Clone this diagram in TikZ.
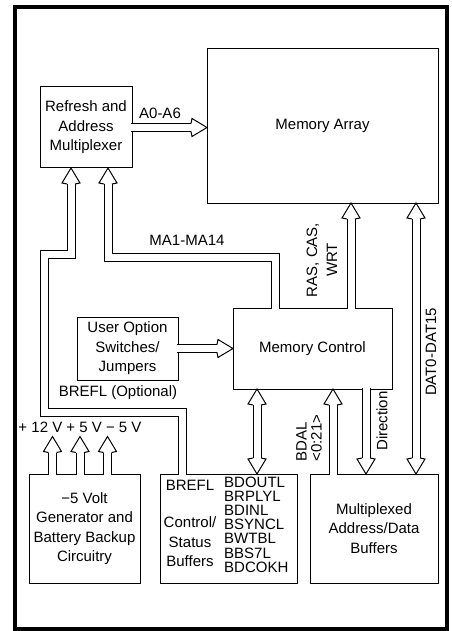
\documentclass[tikz,border=0pt]{standalone}
\usepackage{fontspec}
\setmainfont{Liberation Sans}
\usetikzlibrary{calc}
\tikzset{
  hhead/.pic={\draw[line width=1pt, line join=miter] (-16,4)--(-15,9)--(0,0)--(-15,-9)--(-16,-4);},
  box/.style={draw, line width=1pt, anchor=north west, align=center, inner sep=1pt, outer sep=0pt},
  bus/.style={double distance=7pt, line width=1pt, line join=miter, shorten <=-0.6pt},
  lab/.style={inner sep=0pt, align=center}
}
\begin{document}
\begin{tikzpicture}[x=1pt,y=-1pt,font=\fontsize{15}{19.5}\selectfont]
\useasboundingbox (0,0) rectangle (451,631);
\draw[line width=4pt] (14.5,7) rectangle (447,628.5);

% boxes
\node[box, minimum width=92pt, minimum height=81pt] (mux) at (40,87) {Refresh and\\Address\\Multiplexer};
\node[box, minimum width=231pt, minimum height=154pt] (array) at (207,49) {Memory Array};
\node[box, minimum width=159pt, minimum height=81pt] (mc) at (233,308) {Memory Control};
\node[box, minimum width=101pt, minimum height=63pt] (uo) at (77,317) {User Option\\Switches/\\Jumpers};
\node[box, minimum width=111pt, minimum height=109pt] (pw) at (29,474) {−5 Volt\\Generator and\\Battery Backup\\Circuitry};
\node[box, minimum width=137pt, minimum height=109pt] (ctrl) at (160,474) {};
\node[box, minimum width=128pt, minimum height=109pt] (mbuf) at (310,474) {Multiplexed\\Address/Data\\Buffers};

% texts inside control/status box
\node[lab] (brefl) at (190,485) {BREFL};
\node[lab] (cs) at (190,542) {Control/\\Status\\Buffers};
\node[lab, anchor=west, align=left, font=\fontsize{15}{14.2}\selectfont] (sig) at (224,524.5) {BDOUTL\\BRPLYL\\BDINL\\BSYNCL\\BWTBL\\BBS7L\\BDCOKH};

% A0-A6
\coordinate (a2) at (mux.east -| array.west);
\draw[bus, shorten >=16pt] (mux.east) -- (a2);
\pic at (a2) {hhead};

% BREFL path to multiplexer
\coordinate (b0) at ([xshift=22pt]ctrl.north west);
\coordinate (b1) at ([xshift=-15pt]mux.south);
\draw[bus, shorten >=16pt] (b0) |- (44,412.5) -- (44,254.5) -| (b1);
\pic[rotate=90] at (b1) {hhead};

% MA1-MA14 path
\coordinate (m0) at ([xshift=42pt]mc.north west);
\coordinate (m1) at ([xshift=22pt]mux.south);
\draw[bus, shorten >=16pt] (m0) |- (108,257) -- (m1);
\pic[rotate=90] at (m1) {hhead};

% user option -> memory control
\coordinate (u1) at (uo.east -| mc.west);
\draw[bus, shorten >=16pt] (uo.east) -- (u1);
\pic at (u1) {hhead};

% RAS CAS WRT
\coordinate (r0) at ([xshift=118pt]mc.north west);
\coordinate (r1) at (r0 |- array.south);
\draw[bus, shorten >=16pt] (r0) -- (r1);
\pic[rotate=90] at (r1) {hhead};

% DAT0-DAT15
\coordinate (d1) at ([xshift=-22pt]array.south east);
\coordinate (d2) at (d1 |- mbuf.north);
\draw[bus, shorten >=16pt, shorten <=16pt] (d1) -- (d2);
\pic[rotate=90] at (d1) {hhead};
\pic[rotate=-90] at (d2) {hhead};

% BDOUTL bidirectional
\coordinate (c1) at ([xshift=24pt]mc.south west);
\coordinate (c2) at (c1 |- ctrl.north);
\draw[bus, shorten >=16pt, shorten <=16pt] (c1) -- (c2);
\pic[rotate=90] at (c1) {hhead};
\pic[rotate=-90] at (c2) {hhead};

% BDAL up
\coordinate (e1) at ([xshift=23pt]mbuf.north west);
\coordinate (e2) at (e1 |- mc.south);
\draw[bus, shorten >=16pt] (e1) -- (e2);
\pic[rotate=90] at (e2) {hhead};

% Direction down
\coordinate (f1) at ([xshift=133pt]mc.south west);
\coordinate (f2) at (f1 |- mbuf.north);
\draw[bus, shorten >=16pt] (f1) -- (f2);
\pic[rotate=-90] at (f2) {hhead};

% power arrows
\coordinate (pt1) at (52.5,436.5);
\coordinate (pt2) at (80,436.5);
\coordinate (pt3) at (107.5,436.5);
\foreach \i in {1,2,3}{
  \draw[bus, shorten >=16pt] (pt\i |- pw.north) -- (pt\i);
  \pic[rotate=90] at (pt\i) {hhead};
}

% labels
\node[lab] (la) at (160,113) {A0-A6};
\node[lab] (lma) at (187,240) {MA1-MA14};
\node[lab, rotate=90, font=\fontsize{15}{20}\selectfont] (lras) at (322,260) {RAS, CAS,\\WRT};
\node[lab, rotate=90] (ldat) at (431,352) {DAT0-DAT15};
\node[lab, rotate=90, align=left, font=\fontsize{15}{15}\selectfont] (lbdal) at (309,438) {BDAL\\<0:21>};
\node[lab, rotate=90] (ldir) at (382,421) {Direction};
\node[lab] (lbrefl) at (118,393) {BREFL (Optional)};
\node[lab] (lv) at (80,427) {+ 12 V + 5 V − 5 V};
\end{tikzpicture}
\end{document}
